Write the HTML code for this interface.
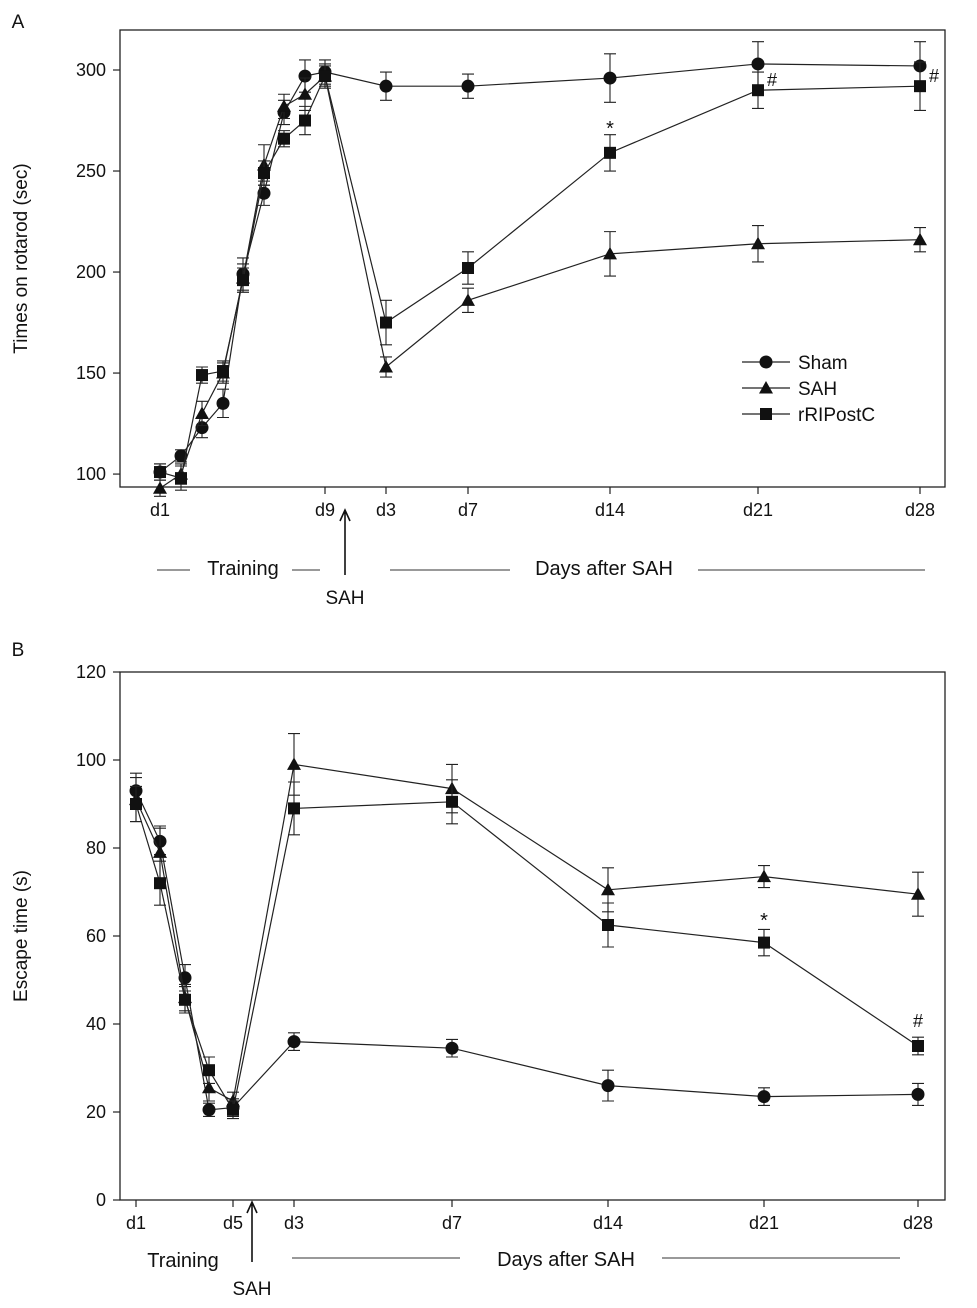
<!DOCTYPE html>
<html><head><meta charset="utf-8"><style>
body{margin:0;background:#fff;}
svg{display:block;font-family:"Liberation Sans",Arial,sans-serif;}
</style></head><body>
<svg id="c" width="977" height="1308" viewBox="0 0 977 1308"></svg>
<script>
// Panel A data
const aCats = ["d1","t2","t3","t4","t5","t6","t7","t8","d9","d3","d7","d14","d21","d28"];
const aSham = [101,109,123,135,199,239,279,297,299,292,292,296,303,302];
const aShamErr = [4,3,5,7,8,6,6,8,6,7,6,12,11,12];
const aSah = [93,100,130,150,197,253,282,288,297,153,186,209,214,216];
const aSahErr = [4,5,6,5,7,10,6,8,6,5,6,11,9,6];
const aRip = [101,98,149,151,196,249,266,275,297,175,202,259,290,292];
const aRipErr = [4,6,4,5,6,6,4,7,5,11,8,9,9,12];
const aYTicks = [100,150,200,250,300];
// Panel B data
const bCats = ["d1","t2","t3","t4","d5","d3","d7","d14","d21","d28"];
const bSham = [93,81.5,50.5,20.5,21,36,34.5,26,23.5,24];
const bShamErr = [4,3,3,1.5,2,2,2,3.5,2,2.5];
const bSah = [91,79,46,25.5,22.5,99,93.5,70.5,73.5,69.5];
const bSahErr = [5,6,3,3,2,7,5.5,5,2.5,5];
const bRip = [90,72,45.5,29.5,20.5,89,90.5,62.5,58.5,35];
const bRipErr = [4,5,3,3,2,6,5,5,3,2];
const bYTicks = [0,20,40,60,80,100,120];

const svg=document.getElementById('c');
const NS='http://www.w3.org/2000/svg';
function mk(t,a,p){const e=document.createElementNS(NS,t);for(const k in a)e.setAttribute(k,a[k]);(p||svg).appendChild(e);return e;}
function txt(x,y,s,size,anchor,p){const e=mk('text',{x:x,y:y,'font-size':size,'text-anchor':anchor||'middle',fill:'#111'},p);e.textContent=s;return e;}

function panel(cfg){
  const g=mk('g',{});
  
  
  const {x0,x1,y0,y1,vmin,vmax,xs}=cfg;
  const Y=v=>y1-(v-vmin)/(vmax-vmin)*(y1-y0);
  const X=i=>xs[i];
  const frame=mk('rect',{x:x0,y:y0,width:x1-x0,height:y1-y0,fill:'none',stroke:'#222','stroke-width':1.3},g);
  
  
  cfg.yt.forEach(v=>{
    mk('line',{x1:x0-7,x2:x0,y1:Y(v),y2:Y(v),stroke:'#222','stroke-width':1.2},g);
    const t=txt(x0-14,Y(v)+6,String(v),18,'end',g);
    
    
  });
  cfg.xlab.forEach(([i,s])=>{
    mk('line',{x1:X(i),x2:X(i),y1:y1,y2:y1+7,stroke:'#222','stroke-width':1.2},g);
    const t=txt(X(i),y1+29,s,18,'middle',g);
    
    
  });
  const yt=txt(0,0,cfg.ytitle,19,'middle',g);
  yt.setAttribute('transform',`translate(${x0-93},${(y0+y1)/2}) rotate(-90)`);
  
  
  const series=[[cfg.s[0],cfg.e[0],'circle','sham'],[cfg.s[1],cfg.e[1],'tri','sah'],[cfg.s[2],cfg.e[2],'sq','rripostc']];
  series.forEach(([vals,errs,shape,nm])=>{
    const sg=mk('g',{},g);
    
    
    let d='';vals.forEach((v,i)=>{d+=(i?'L':'M')+X(i)+','+Y(v);});
    mk('path',{d:d,fill:'none',stroke:'#222','stroke-width':1.2},sg);
    vals.forEach((v,i)=>{
      const e=errs[i];
      mk('path',{d:`M${X(i)},${Y(v+e)}V${Y(v-e)}M${X(i)-6},${Y(v+e)}h12M${X(i)-6},${Y(v-e)}h12`,stroke:'#222','stroke-width':1.1,fill:'none'},sg);
      drawMarker(shape,X(i),Y(v),sg);
    });
  });
  return {g,X,Y};
}
function drawMarker(shape,x,y,p){
  let m;
  if(shape==='circle')m=mk('circle',{cx:x,cy:y,r:6.5,fill:'#111'},p);
  else if(shape==='tri')m=mk('path',{d:`M${x},${y-7}L${x+7},${y+5.5}L${x-7},${y+5.5}Z`,fill:'#111'},p);
  else m=mk('rect',{x:x-6,y:y-6,width:12,height:12,fill:'#111'},p);
  
  
}

const A=panel({name:'panel-a',x0:120,x1:945,y0:30,y1:487,vmin:93.6,vmax:319.8,
  xs:[160,181,202,223,243,264,284,305,325,386,468,610,758,920],
  yt:aYTicks,xlab:[[0,'d1'],[8,'d9'],[9,'d3'],[10,'d7'],[11,'d14'],[12,'d21'],[13,'d28']],
  ytitle:'Times on rotarod (sec)',s:[aSham,aSah,aRip],e:[aShamErr,aSahErr,aRipErr]});
const B=panel({name:'panel-b',x0:120,x1:945,y0:672,y1:1200,vmin:0,vmax:120,
  xs:[136,160,185,209,233,294,452,608,764,918],
  yt:bYTicks,xlab:[[0,'d1'],[4,'d5'],[5,'d3'],[6,'d7'],[7,'d14'],[8,'d21'],[9,'d28']],
  ytitle:'Escape time (s)',s:[bSham,bSah,bRip],e:[bShamErr,bSahErr,bRipErr]});

function label(x,y,s,size,name,anchor){const t=txt(x,y,s,size,anchor||'middle');return t;}
function hline(x1,x2,y){mk('line',{x1:x1,x2:x2,y1:y,y2:y,stroke:'#333','stroke-width':1});}
function arrow(x,yTop,yBot){mk('path',{d:`M${x},${yBot}V${yTop}M${x-5},${yTop+11}L${x},${yTop}L${x+5},${yTop+11}`,stroke:'#111','stroke-width':1.6,fill:'none'});}

label(18,28,'A',19,'panel-a-label');
label(18,656,'B',19,'panel-b-label');
hline(157,190,570);label(243,575,'Training',20,'training-label-a');hline(292,320,570);
arrow(345,510,575);label(345,604,'SAH',19,'sah-label-a');
hline(390,510,570);label(604,575,'Days after SAH',20,'days-after-label-a');hline(698,925,570);
label(A.X(11),135,'*',20,'sig-star-a');
label(A.X(12)+14,A.Y(aRip[12])-4,'#',18,'sig-hash-a-d21');
label(A.X(13)+14,A.Y(aRip[13])-4,'#',18,'sig-hash-a-d28');
const lg=mk('g',{});
[['circle','Sham',362],['tri','SAH',388],['sq','rRIPostC',414]].forEach(([s,n,y])=>{
  mk('line',{x1:742,x2:790,y1:y,y2:y,stroke:'#222','stroke-width':1.2},lg);
  drawMarker(s,766,y,lg);
  const t=txt(798,y+7,n,19,'start',lg);
});
label(183,1267,'Training',20,'training-label-b');
arrow(252,1202,1262);label(252,1295,'SAH',19,'sah-label-b');
hline(292,460,1258);label(566,1266,'Days after SAH',20,'days-after-label-b');hline(662,900,1258);
label(B.X(8),927,'*',20,'sig-star-b');
label(B.X(9),1027,'#',18,'sig-hash-b');
</script>
</body></html>
